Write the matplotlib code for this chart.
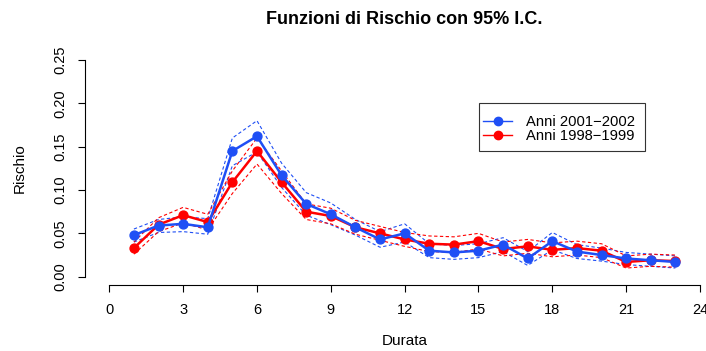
import matplotlib
matplotlib.use("Agg")
import matplotlib.pyplot as plt
from matplotlib.lines import Line2D
from matplotlib.patches import Rectangle
from matplotlib.transforms import Affine2D

plt.rcParams['font.family'] = ['Liberation Sans', 'DejaVu Sans']

durata = list(range(1, 24))

# Anni 2001-2002: stima e intervallo di confidenza al 95%
rischio_0102 = [0.048, 0.059, 0.061, 0.057, 0.145, 0.162, 0.117, 0.084, 0.072, 0.057,
                0.043, 0.050, 0.030, 0.028, 0.030, 0.037, 0.021, 0.041, 0.029, 0.025,
                0.021, 0.019, 0.017]
sup_0102 = [0.055, 0.066, 0.069, 0.067, 0.160, 0.180, 0.131, 0.097, 0.085, 0.066,
            0.052, 0.061, 0.038, 0.036, 0.038, 0.045, 0.029, 0.051, 0.037, 0.033,
            0.028, 0.026, 0.024]
inf_0102 = [0.040, 0.051, 0.052, 0.049, 0.128, 0.144, 0.103, 0.071, 0.060, 0.048,
            0.034, 0.040, 0.022, 0.020, 0.022, 0.029, 0.013, 0.031, 0.021, 0.018,
            0.014, 0.012, 0.010]

# Anni 1998-1999: stima e intervallo di confidenza al 95%
rischio_9899 = [0.033, 0.060, 0.071, 0.063, 0.109, 0.145, 0.109, 0.075, 0.070, 0.057,
                0.050, 0.043, 0.038, 0.037, 0.041, 0.032, 0.035, 0.031, 0.033, 0.030,
                0.017, 0.019, 0.018]
sup_9899 = [0.040, 0.068, 0.080, 0.072, 0.122, 0.160, 0.122, 0.084, 0.079, 0.065,
            0.058, 0.051, 0.047, 0.046, 0.050, 0.040, 0.043, 0.039, 0.041, 0.038,
            0.024, 0.026, 0.025]
inf_9899 = [0.026, 0.052, 0.062, 0.054, 0.096, 0.130, 0.096, 0.066, 0.061, 0.049,
            0.042, 0.035, 0.029, 0.028, 0.032, 0.024, 0.027, 0.023, 0.025, 0.022,
            0.010, 0.012, 0.011]

x_ticks = [0, 3, 6, 9, 12, 15, 18, 21, 24]
y_ticks = [0.00, 0.05, 0.10, 0.15, 0.20, 0.25]
y_ticklabels = ["0.00", "0.05", "0.10", "0.15", "0.20", "0.25"]
legend_labels = ["Anni 2001\u22122002", "Anni 1998\u22121999"]

BLUE = "#1f4ff5"
RED = "#ff0000"

W, H = 706, 351
fig = plt.figure(figsize=(W / 100, H / 100), dpi=100)
x0, x1 = 109.3, 700.0
y0, y1 = 276.7, 60.0
ax = fig.add_axes([x0 / W, 1 - y0 / H, (x1 - x0) / W, (y0 - y1) / H])
ax.set_xlim(0, 24)
ax.set_ylim(0, 0.25)

# confidence bands (dashed)
dash = (0, (3.0, 2.2))
for s, i, c in [(sup_0102, inf_0102, BLUE), (sup_9899, inf_9899, RED)]:
    ax.plot(durata, s, color=c, lw=0.8, linestyle=dash, clip_on=False)
    ax.plot(durata, i, color=c, lw=0.8, linestyle=dash, clip_on=False)

# hazard estimates
ax.plot(durata, rischio_9899, color=RED, lw=1.8, marker="o", ms=6.4,
        clip_on=False, zorder=3)
ax.plot(durata, rischio_0102, color=BLUE, lw=1.8, marker="o", ms=6.4,
        clip_on=False, zorder=4)

for side in ("top", "right"):
    ax.spines[side].set_visible(False)
ax.spines["left"].set_position(("outward", (x0 - 85) * 0.72))
ax.spines["bottom"].set_position(("outward", (285 - y0) * 0.72))
ax.spines["left"].set_linewidth(0.8)
ax.spines["bottom"].set_linewidth(0.8)

ax.set_xticks(x_ticks)
ax.set_xticklabels([str(v) for v in x_ticks])
ax.set_yticks(y_ticks)
ax.set_yticklabels(y_ticklabels, rotation=90, va="center")
ax.tick_params(axis="both", direction="out", length=5, width=0.8, labelsize=10.5,
               colors="black")
ax.tick_params(axis="x", pad=8)
ax.tick_params(axis="y", pad=8)

fig.text((x0 + x1) / 2 / W, 1 - 19 / H, "Funzioni di Rischio con 95% I.C.",
         ha="center", va="center", fontsize=13, fontweight="bold")
fig.text((x0 + x1) / 2 / W, 1 - 341 / H, "Durata", ha="center", va="center", fontsize=11)
fig.text(20 / W, 1 - 168 / H, "Rischio", ha="center", va="center", rotation=90, fontsize=11)

# legend drawn in figure pixel coordinates (origin at top-left)
to_disp = Affine2D().scale(1, -1).translate(0, H)
fig.add_artist(Rectangle((479, 103), 166, 48, transform=to_disp, fill=True,
                         facecolor="white", edgecolor="#333333", lw=0.8, zorder=5))
for row_y, c, lab in [(120.5, BLUE, legend_labels[0]), (135, RED, legend_labels[1])]:
    fig.add_artist(Line2D([483, 512], [row_y, row_y], transform=to_disp, color=c,
                          lw=1.0, zorder=6))
    fig.add_artist(Line2D([497.5], [row_y], transform=to_disp, color=c, marker="o",
                          ms=6.0, lw=0, zorder=6))
    fig.text(526 / W, 1 - row_y / H, lab, ha="left", va="center_baseline",
             fontsize=10.6, zorder=6)

fig.savefig("out.png", dpi=100)
